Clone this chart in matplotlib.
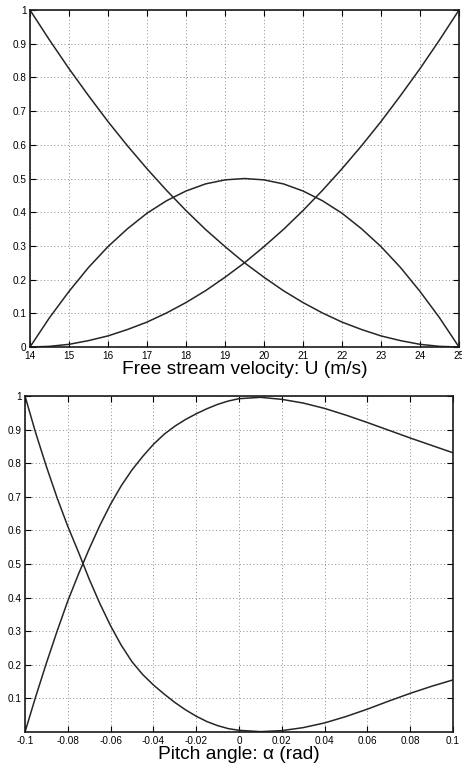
import matplotlib
matplotlib.use('Agg')
import matplotlib.pyplot as plt

# top panel: membership vs free stream velocity
U = [14, 14.5, 15, 15.5, 16, 16.5, 17, 17.5, 18, 18.5, 19, 19.5,
     20, 20.5, 21, 21.5, 22, 22.5, 23, 23.5, 24, 24.5, 25]
u_low = [1.0, 0.911, 0.826, 0.746, 0.669, 0.597, 0.529, 0.465, 0.405, 0.349, 0.298, 0.25,
         0.207, 0.167, 0.132, 0.101, 0.074, 0.052, 0.033, 0.019, 0.008, 0.002, 0.0]
u_mid = [0.0, 0.087, 0.165, 0.236, 0.298, 0.351, 0.397, 0.434, 0.463, 0.484, 0.496, 0.5,
         0.496, 0.484, 0.463, 0.434, 0.397, 0.351, 0.298, 0.236, 0.165, 0.087, 0.0]
u_high = [0.0, 0.002, 0.008, 0.019, 0.033, 0.052, 0.074, 0.101, 0.132, 0.167, 0.207, 0.25,
          0.298, 0.349, 0.405, 0.465, 0.529, 0.597, 0.669, 0.746, 0.826, 0.911, 1.0]

# bottom panel: membership vs pitch angle
alpha = [-0.1, -0.095, -0.09, -0.085, -0.08, -0.075, -0.07, -0.065, -0.06, -0.055,
         -0.05, -0.045, -0.04, -0.035, -0.03, -0.025, -0.02, -0.015, -0.01, -0.005,
         0.0, 0.01, 0.02, 0.03, 0.04, 0.05, 0.06, 0.07, 0.08, 0.09, 0.1]
a_low = [1.0, 0.89, 0.79, 0.697, 0.612, 0.535, 0.455, 0.382, 0.316, 0.258,
         0.209, 0.171, 0.14, 0.113, 0.088, 0.066, 0.047, 0.031, 0.019, 0.01,
         0.005, 0.001, 0.004, 0.013, 0.027, 0.046, 0.068, 0.092, 0.115, 0.136, 0.155]
a_high = [0.0, 0.105, 0.205, 0.30, 0.39, 0.47, 0.545, 0.615, 0.678, 0.733,
          0.78, 0.82, 0.856, 0.886, 0.91, 0.93, 0.947, 0.962, 0.975, 0.985,
          0.992, 0.996, 0.99, 0.979, 0.963, 0.943, 0.921, 0.898, 0.875, 0.853, 0.831]

u_ticks = list(range(14, 26))
a_ticks = [-0.1, -0.08, -0.06, -0.04, -0.02, 0, 0.02, 0.04, 0.06, 0.08, 0.1]
a_ticklabels = ['-0.1', '-0.08', '-0.06', '-0.04', '-0.02', '0', '0.02', '0.04', '0.06', '0.08', '0.1']
y_ticks = [0, 0.1, 0.2, 0.3, 0.4, 0.5, 0.6, 0.7, 0.8, 0.9, 1]
y_ticklabels = ['0', '0.1', '0.2', '0.3', '0.4', '0.5', '0.6', '0.7', '0.8', '0.9', '1']

plt.rcParams['font.family'] = ['Liberation Sans', 'DejaVu Sans']

fig = plt.figure(figsize=(4.62, 7.71), dpi=100)
ax1 = fig.add_axes([0.0649, 0.5499, 0.9286, 0.4371])
ax2 = fig.add_axes([0.0541, 0.0506, 0.9264, 0.4358])


def style(ax):
    ax.set_ylim(0, 1)
    ax.grid(True, linestyle=(0, (1, 2.5)), color='0.55', linewidth=0.7)
    ax.tick_params(direction='in', top=True, right=True, length=4,
                   labelsize=7.2, width=0.8)
    ax.tick_params(axis='x', pad=3)
    ax.tick_params(axis='y', pad=2.5)
    for s in ax.spines.values():
        s.set_linewidth(1.2)
        s.set_color('0.1')


for y in (u_low, u_mid, u_high):
    ax1.plot(U, y, color='0.15', linewidth=1.1)
ax1.set_xlim(14, 25)
ax1.set_xticks(u_ticks)
ax1.set_yticks(y_ticks)
ax1.set_yticklabels(y_ticklabels)
style(ax1)
ax1.set_xlabel('Free stream velocity: U (m/s)', fontsize=13.8, labelpad=0)

for y in (a_low, a_high):
    ax2.plot(alpha, y, color='0.15', linewidth=1.1)
ax2.set_xlim(-0.1, 0.1)
ax2.set_xticks(a_ticks)
ax2.set_xticklabels(a_ticklabels)
ax2.set_yticks(y_ticks[1:])
ax2.set_yticklabels(y_ticklabels[1:])
style(ax2)
ax2.set_xlabel('Pitch angle: α (rad)', fontsize=13.8, labelpad=0)

fig.savefig('out.png', dpi=100)
